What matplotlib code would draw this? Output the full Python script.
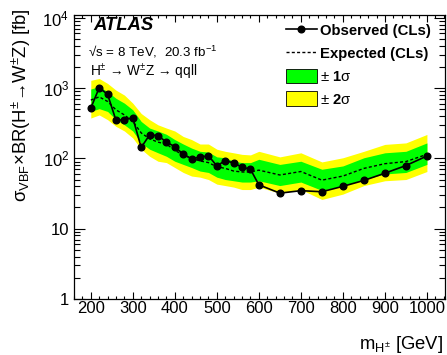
import math
import matplotlib
matplotlib.use('Agg')
import matplotlib.pyplot as plt
from matplotlib.lines import Line2D
from matplotlib.patches import Patch
from matplotlib.ticker import FixedLocator, FuncFormatter, MultipleLocator, LogLocator

plt.rcParams['font.family'] = ['Liberation Sans', 'DejaVu Sans']
plt.rcParams['mathtext.fontset'] = 'custom'
plt.rcParams['mathtext.rm'] = 'Liberation Sans'
plt.rcParams['mathtext.it'] = 'Liberation Sans:italic'
plt.rcParams['mathtext.bf'] = 'Liberation Sans:bold'

# mass points [GeV]
mass = [200, 220, 240, 260, 280, 300, 320, 340, 360, 380, 400, 420, 440, 460,
        480, 500, 520, 540, 560, 580, 600, 650, 700, 750, 800, 850, 900, 950, 1000]

observed = [518, 1010, 815, 347, 354, 378, 143, 216, 211, 170, 147, 114, 99, 104,
            109, 78, 93, 86, 75, 70, 42, 32, 34.7, 33.5, 40, 48.5, 61.5, 79, 108]

expected = [675, 750, 645, 490, 415, 335, 230, 190, 170, 160, 130, 112, 100, 92,
            87, 76, 72, 66, 64, 64, 68, 58, 65, 49, 56, 72, 84, 90, 114]

plus2 = [1290, 1370, 1165, 935, 795, 610, 435, 355, 300, 270, 245, 205, 185, 160,
         160, 135, 126, 120, 114, 112, 126, 105, 120, 89, 102, 126, 158, 166, 219]
plus1 = [970, 1050, 890, 715, 610, 490, 335, 270, 245, 220, 185, 160, 140, 126,
         123, 105, 102, 91, 87, 87, 97, 82, 91, 70, 78, 102, 120, 126, 166]
minus1 = [465, 510, 465, 355, 300, 245, 165, 135, 120, 107, 91, 82, 74, 66,
          63, 54, 50, 48, 46, 46, 48, 41, 46, 35, 41, 50, 60, 63, 82]
minus2 = [375, 415, 355, 285, 245, 195, 135, 107, 91, 87, 74, 63, 56, 54,
          50, 43, 41, 39, 36, 36, 39, 32, 36, 26, 31, 41, 48, 50, 65]

fig = plt.figure(figsize=(4.47, 3.55), dpi=100)
ax = fig.add_axes([0.1655, 0.158, 0.830, 0.800])

ax.fill_between(mass, minus2, plus2, color='#ffff00', lw=0)
ax.fill_between(mass, minus1, plus1, color='#00ff00', lw=0)
ax.plot(mass, expected, color='black', lw=1.0, ls=(0, (2.2, 1.6)))
ax.plot(mass, observed, color='black', lw=1.2, marker='o', ms=4.8)

ax.set_yscale('log')
ax.set_xlim(160, 1043)
ax.set_ylim(1, 1.1e4)

ax.xaxis.set_major_locator(MultipleLocator(100))
ax.xaxis.set_minor_locator(MultipleLocator(20))
ax.yaxis.set_major_locator(FixedLocator([1, 10, 100, 1000, 10000]))
ax.yaxis.set_minor_locator(LogLocator(base=10, subs=range(2, 10)))


def yfmt(v, pos):
    if v == 1:
        return '1'
    if v == 10:
        return '10'
    return r'$\mathregular{10^{%d}}$' % round(math.log10(v))


ax.yaxis.set_major_formatter(FuncFormatter(yfmt))
ax.tick_params(which='both', direction='in', top=True, right=True,
               labelsize=12, width=0.8)
ax.tick_params(axis='x', which='major', length=5, pad=1.5)
ax.tick_params(axis='x', which='minor', length=2.5)
ax.tick_params(axis='y', which='major', length=8, pad=3.5)
ax.tick_params(axis='y', which='minor', length=4.3)
for s in ax.spines.values():
    s.set_linewidth(0.9)

ax.text(0.051, 0.947, 'ATLAS', transform=ax.transAxes, fontsize=13.3,
        fontweight='bold', style='italic', va='baseline', ha='left')
ax.text(0.038, 0.852, '√s = 8 TeV,  20.3 fb$^{\\mathregular{-1}}$',
        transform=ax.transAxes, fontsize=9.6, va='baseline', ha='left')
ax.text(0.043, 0.785, r'H$^{\pm}$ → W$^{\pm}$Z → qqll',
        transform=ax.transAxes, fontsize=9.8, va='baseline', ha='left')

handles = [
    Line2D([], [], color='black', lw=1.2, marker='o', ms=4.8),
    Line2D([], [], color='black', lw=1.0, ls=(0, (2.2, 1.6))),
    Patch(facecolor='#00ff00', edgecolor='black', lw=0.6),
    Patch(facecolor='#ffff00', edgecolor='black', lw=0.6),
]
labels = ['Observed (CLs)', 'Expected (CLs)', r'± $\mathbf{1}$σ', r'± $\mathbf{2}$σ']
leg = ax.legend(handles, labels, loc='upper left', bbox_to_anchor=(0.571, 0.972),
                frameon=False, handlelength=2.1, handleheight=1.15,
                labelspacing=0.5, handletextpad=0.2, borderaxespad=0,
                borderpad=0, prop={'weight': 'bold', 'size': 10.7})
for t in leg.get_texts()[2:]:
    t.set_fontweight('normal')

fig.text(0.047, 0.977, r'σ$_{\mathregular{VBF}}$×BR(H$^{\pm}$→W$^{\pm}$Z) [fb]',
         rotation=90, ha='center', va='top', fontsize=13.3)
fig.text(0.991, 0.017, r'm$_{\mathregular{H^{\pm}}}$ [GeV]', ha='right', va='baseline',
         fontsize=13.3)

fig.savefig('out.png', dpi=100)
